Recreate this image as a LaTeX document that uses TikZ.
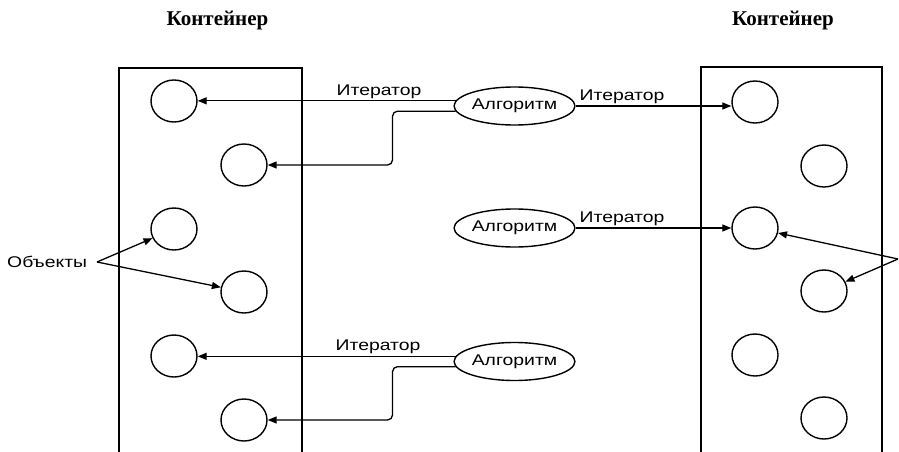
\documentclass[tikz,border=0pt]{standalone}
\usepackage{fontspec}
\setmainfont{Liberation Serif}
\newfontfamily\arialf{Liberation Sans}
\usetikzlibrary{arrows.meta,shapes.geometric}
\tikzset{
  obj/.style={draw, line width=1.4pt, ellipse, minimum width=46pt, minimum height=42pt, inner sep=0pt},
  alg/.style={draw, line width=1.4pt, ellipse, minimum width=114pt, minimum height=38pt, inner sep=0pt, font=\arialf\fontsize{15.5}{16}\selectfont},
  arr/.style={line width=1.3pt, -{Triangle[length=9pt,width=7pt]}},
  wall/.style={line width=1.3pt},
  lbl/.style={font=\arialf\fontsize{15.5}{16}\selectfont, inner sep=0pt, anchor=base},
  title/.style={font=\bfseries\fontsize{21}{22}\selectfont, inner sep=0pt}
}
\newcommand{\wide}[1]{\scalebox{1.25}[1]{#1}}
\begin{document}
\begin{tikzpicture}[x=1pt,y=-1pt]
\useasboundingbox (0,0) rectangle (899,452);
% titles
\node[title] (t1) at (217.5,21) {Контейнер};
\node[title] (t2) at (783,21) {Контейнер};
% containers
\draw[wall] (119,453) -- (119,68) -- (302,68) -- (302,453);
\draw[wall] (701,453) -- (701,67) -- (882,67) -- (882,453);
% left objects
\node[obj] (c1) at (174,101) {};
\node[obj] (c2) at (244,165) {};
\node[obj] (c3) at (174,229) {};
\node[obj] (c4) at (244,292) {};
\node[obj] (c5) at (174,356) {};
\node[obj] (c6) at (244,420) {};
% right objects
\node[obj] (r1) at (755,102) {};
\node[obj] (r2) at (824,166) {};
\node[obj] (r3) at (755,228) {};
\node[obj] (r4) at (824,291) {};
\node[obj] (r5) at (755,355) {};
\node[obj] (r6) at (824,418) {};
% algorithms
\node[alg] (a1) at (514.5,106) {\wide{Алгоритм}};
\node[alg] (a2) at (514.5,228) {\wide{Алгоритм}};
\node[alg] (a3) at (514.5,361.5) {\wide{Алгоритм}};
% iterators from a1
\draw[arr] (a1.175) -- (a1.175 -| c1.east);
\draw[arr, rounded corners=5pt] (a1.185) -- ++(-63,0) |- (c2.east);
\draw[arr] (a1.east) -- (a1.east -| r1.west);
% iterator from a2
\draw[arr] (a2.east) -- (a2.east -| r3.west);
% iterators from a3
\draw[arr] (a3.175) -- (a3.175 -| c5.east);
\draw[arr, rounded corners=5pt] (a3.185) -- ++(-63,0) |- (c6.east);
% iterator labels
\node[lbl] (i1) at (379,95) {\wide{Итератор}};
\node[lbl] (i2) at (622,100) {\wide{Итератор}};
\node[lbl] (i3) at (622,222) {\wide{Итератор}};
\node[lbl] (i4) at (378,350) {\wide{Итератор}};
% objects labels
\node[lbl, anchor=base west] (ob) at (7,267) {\wide{Объекты}};
\coordinate (obl) at (97,262);
\draw[arr] (obl) -- (c3);
\draw[arr] (obl) -- (c4);
\coordinate (obr) at (898,259);
\draw[arr] (obr) -- (r3);
\draw[arr] (obr) -- (r4);
\end{tikzpicture}
\end{document}
